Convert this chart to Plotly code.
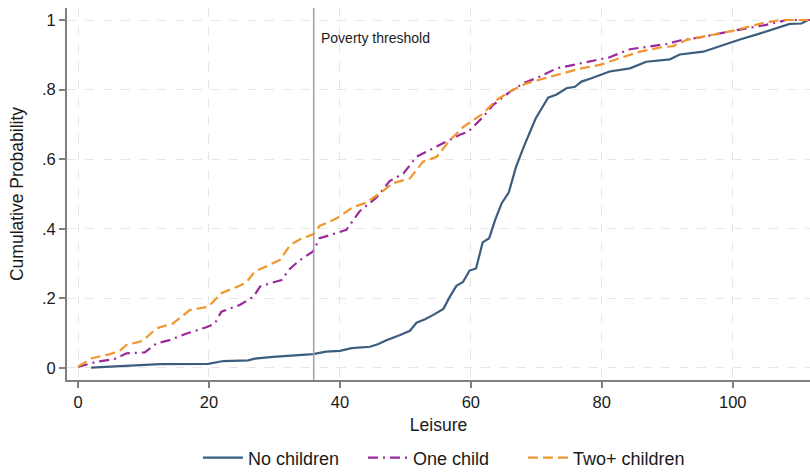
import plotly.graph_objects as go

# ---- data ----
no_children_x = [2, 7.4, 12.5, 19.9, 22.2, 26, 27, 29.8, 32.9, 35.9, 37.9, 40, 41.8, 44.6, 45.8,
                 47.1, 49.2, 50.7, 51.7, 53, 54.2, 55.8, 56.8, 57.8, 58.8, 59.8, 60.8, 61.8, 62.8,
                 63.7, 64.7, 65.8, 66.9, 68.2, 69.9, 71.8, 73.1, 74.6, 75.9, 76.9, 78.2, 81.2, 84.3,
                 86.8, 90.4, 91.9, 95.5, 98, 101.1, 104.1, 106.7, 108.7, 110.5, 111.5]
no_children_y = [0.001, 0.007, 0.011, 0.012, 0.020, 0.022, 0.027, 0.032, 0.036, 0.040, 0.047, 0.049,
                 0.057, 0.061, 0.068, 0.080, 0.095, 0.107, 0.130, 0.140, 0.152, 0.170, 0.205, 0.236,
                 0.247, 0.280, 0.286, 0.361, 0.373, 0.425, 0.473, 0.505, 0.578, 0.641, 0.717, 0.777,
                 0.786, 0.804, 0.808, 0.823, 0.831, 0.852, 0.861, 0.880, 0.887, 0.901, 0.909, 0.925,
                 0.944, 0.961, 0.976, 0.989, 0.990, 1.0]

one_child_x = [0, 2.85, 5.6, 7.4, 10.2, 12, 14, 16.6, 19.6, 20.9, 21.9, 24.7, 26.8, 27.8, 29.3, 31.1,
               32.4, 33.9, 35.9, 36.9, 38.5, 41, 43, 45.6, 47.6, 49.7, 51.7, 54.2, 56.3, 58.3, 59.6,
               60.4, 61.9, 63.4, 66, 68, 70.5, 73.1, 75.6, 78.2, 81.2, 84.3, 86.3, 89.9, 91.9, 95,
               100, 102.1, 105.1, 108.2, 112]
one_child_y = [0.003, 0.018, 0.026, 0.042, 0.045, 0.071, 0.080, 0.099, 0.117, 0.128, 0.162, 0.181,
               0.205, 0.234, 0.243, 0.253, 0.286, 0.310, 0.335, 0.373, 0.382, 0.397, 0.450, 0.490,
               0.537, 0.559, 0.607, 0.631, 0.650, 0.670, 0.679, 0.693, 0.722, 0.756, 0.794, 0.818,
               0.837, 0.861, 0.871, 0.882, 0.893, 0.916, 0.921, 0.931, 0.941, 0.950, 0.969, 0.976,
               0.986, 1.0, 1.0]

two_plus_x = [0, 2.1, 4.9, 6.4, 7.4, 9.9, 12, 14.5, 17.1, 19.9, 21.9, 25, 26, 27, 30.8, 32.4, 33.9,
              35.9, 36.9, 39.5, 42, 44, 46.1, 48.1, 50.7, 52.7, 54.8, 56.8, 58.8, 60.4, 61.9, 63.9,
              66.2, 68.5, 71.6, 74.1, 76.6, 79.7, 82.7, 85.8, 88.9, 90.9, 93, 96.5, 100, 104.1,
              107.2, 112]
two_plus_y = [0.004, 0.028, 0.040, 0.050, 0.066, 0.078, 0.114, 0.128, 0.167, 0.176, 0.215, 0.239,
              0.253, 0.277, 0.310, 0.353, 0.370, 0.384, 0.408, 0.430, 0.462, 0.475, 0.502, 0.531,
              0.545, 0.593, 0.607, 0.655, 0.692, 0.713, 0.732, 0.770, 0.797, 0.818, 0.835, 0.847,
              0.860, 0.871, 0.890, 0.909, 0.921, 0.925, 0.943, 0.957, 0.969, 0.989, 1.0, 1.0]

poverty_threshold = 36
x_ticks = [0, 20, 40, 60, 80, 100]
y_ticks = [0, 0.2, 0.4, 0.6, 0.8, 1]
y_tick_labels = ["0", ".2", ".4", ".6", ".8", "1"]

FONT = "Liberation Sans, Arial, sans-serif"

fig = go.Figure()
fig.add_trace(go.Scatter(x=no_children_x, y=no_children_y, mode="lines", name="No children",
                         legendwidth=110,
                         line=dict(color="#3b5d7e", width=2.2)))
fig.add_trace(go.Scatter(x=one_child_x, y=one_child_y, mode="lines", name="One child",
                         legendwidth=105,
                         line=dict(color="#9a2a9c", width=2.2, dash="10px,5px,2px,5px")))
fig.add_trace(go.Scatter(x=two_plus_x, y=two_plus_y, mode="lines", name="Two+ children",
                         legendwidth=118,
                         line=dict(color="#f0962e", width=2.2, dash="10px,5px")))

fig.add_shape(type="line", x0=poverty_threshold, x1=poverty_threshold, y0=0, y1=1,
              xref="x", yref="paper", line=dict(color="#a0a0a0", width=1.5))
fig.add_annotation(x=poverty_threshold + 0.8, y=0.948, xref="x", yref="y",
                   text="Poverty threshold", showarrow=False, xanchor="left", yanchor="middle",
                   font=dict(family=FONT, size=14, color="#1a1a1a"))

fig.update_layout(
    width=810, height=473,
    margin=dict(l=67, r=0, t=8, b=93),
    plot_bgcolor="white", paper_bgcolor="white",
    font=dict(family=FONT, size=16, color="#1a1a1a"),
    legend=dict(orientation="h", x=0.5114, xanchor="center", yref="container", y=0.032,
                yanchor="middle", font=dict(size=18), itemwidth=40, tracegroupgap=0,
                bgcolor="rgba(0,0,0,0)"),
    xaxis=dict(range=[-1.68, 111.8], tickvals=x_ticks, showline=True, linecolor="#808080",
               linewidth=2, ticks="outside", ticklen=6, tickcolor="#808080", tickwidth=1.5,
               showgrid=True, gridcolor="#e6e6e6", griddash="dash", gridwidth=1,
               zeroline=False, title=dict(text="Leisure", font=dict(size=17.5), standoff=9),
               tickfont=dict(size=16.5)),
    yaxis=dict(range=[-0.0345, 1.0345], tickvals=y_ticks, ticktext=y_tick_labels,
               showline=True, linecolor="#808080", linewidth=2, ticks="outside", ticklen=6,
               tickcolor="#808080", tickwidth=1.5, showgrid=True, gridcolor="#e6e6e6",
               griddash="dash", gridwidth=1, zeroline=False,
               title=dict(text="Cumulative Probability", font=dict(size=17.5), standoff=14),
               tickfont=dict(size=16.5)),
)

fig.write_html("out.html")
